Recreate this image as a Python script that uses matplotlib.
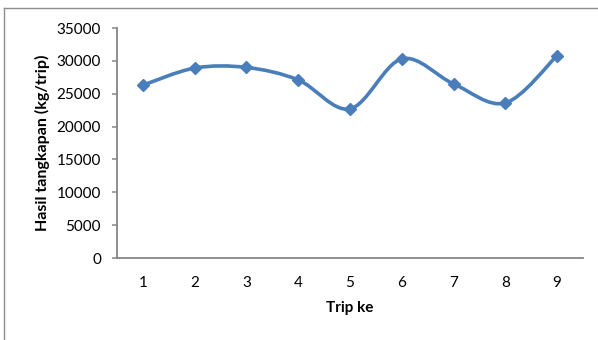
import matplotlib
matplotlib.use("Agg")
import matplotlib.pyplot as plt
from matplotlib.path import Path
from matplotlib.patches import PathPatch
from matplotlib.lines import Line2D
import numpy as np

plt.rcParams['font.family'] = ['Lato', 'DejaVu Sans']

trips = [1, 2, 3, 4, 5, 6, 7, 8, 9]
catch = [26300, 28900, 29000, 27100, 22700, 30300, 26500, 23600, 30800]
y_ticks = [0, 5000, 10000, 15000, 20000, 25000, 30000, 35000]

line_color = '#4A7EBB'
axis_color = '#868686'

fig = plt.figure(figsize=(5.98, 3.40), dpi=100)
ax = fig.add_axes([117 / 598, 82 / 340, 466 / 598, 230 / 340])

# Smoothed line: cubic Bezier segments with Catmull-Rom control points
pts = np.column_stack([trips, catch]).astype(float)
ext = np.vstack([pts[0], pts, pts[-1]])
verts = [tuple(pts[0])]
codes = [Path.MOVETO]
for i in range(len(pts) - 1):
    p0, p1, p2, p3 = ext[i], ext[i + 1], ext[i + 2], ext[i + 3]
    c1 = p1 + (p2 - p0) / 6.0
    c2 = p2 - (p3 - p1) / 6.0
    verts += [tuple(c1), tuple(c2), tuple(p2)]
    codes += [Path.CURVE4, Path.CURVE4, Path.CURVE4]
ax.add_patch(PathPatch(Path(verts, codes), facecolor='none',
                       edgecolor=line_color, linewidth=2.6,
                       capstyle='round', joinstyle='round', zorder=3))
ax.plot(trips, catch, linestyle='none', marker='D', markersize=6,
        color=line_color, zorder=4)

ax.set_xlim(0.5, 9.5)
ax.set_ylim(0, 35000)
ax.set_yticks(y_ticks)
ax.set_xticks(trips)
ax.set_xticklabels([str(t) for t in trips])

for side in ['top', 'right']:
    ax.spines[side].set_visible(False)
for side in ['left', 'bottom']:
    ax.spines[side].set_color(axis_color)
    ax.spines[side].set_linewidth(1.3)

ax.tick_params(axis='y', length=3.5, width=1.1, color=axis_color,
               labelsize=11, pad=8)
ax.tick_params(axis='x', length=0, labelsize=11, pad=13)

ax.set_ylabel('Hasil tangkapan (kg/trip)', fontsize=11.5,
              fontweight='bold', labelpad=5)
ax.set_xlabel('Trip ke', fontsize=11, fontweight='bold', labelpad=8)

# Outer chart frame (top and left edges)
fig.add_artist(Line2D([4 / 598, 1.0], [1 - 8 / 340, 1 - 8 / 340],
                      transform=fig.transFigure, color='#8c8c8c',
                      linewidth=1.0))
fig.add_artist(Line2D([4 / 598, 4 / 598], [0.0, 1 - 8 / 340],
                      transform=fig.transFigure, color='#8c8c8c',
                      linewidth=1.0))

fig.savefig('out.png', dpi=100)
